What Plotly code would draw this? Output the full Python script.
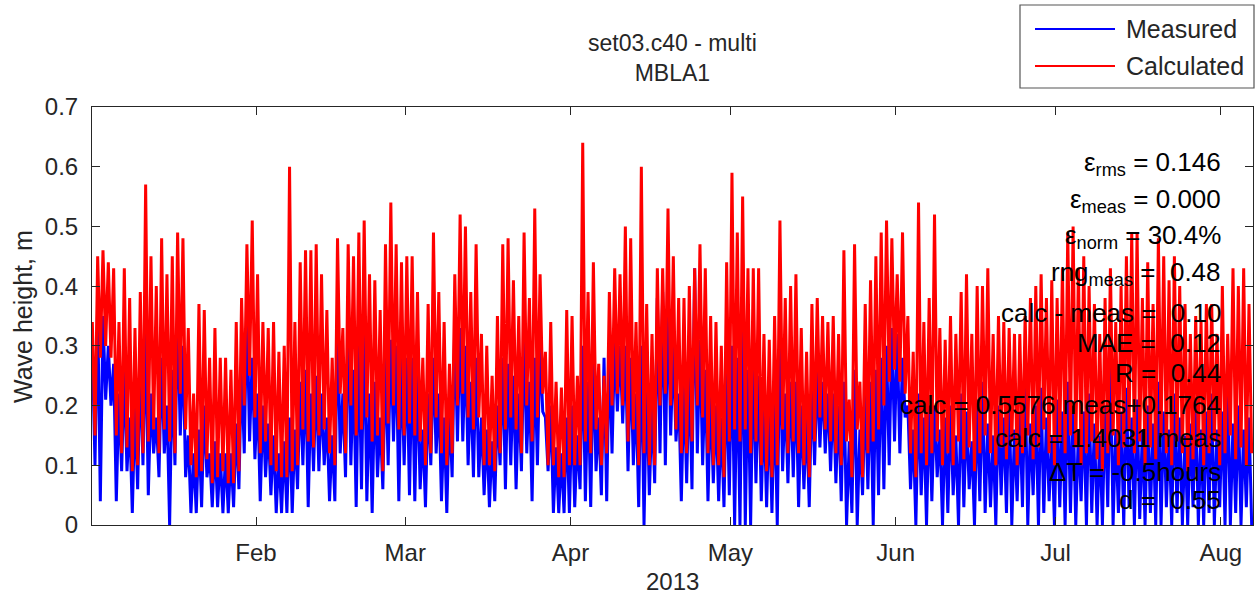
import pandas as pd
import plotly.graph_objects as go

# Daily extremes of significant wave height at MBLA1 (m), 1 Jan – 7 Aug 2013.
# Each day contributes its high and low value to the plotted series.
calc_hi = [
    0.34, 0.45, 0.46, 0.44, 0.43, 0.34, 0.43, 0.38, 0.33, 0.39,
    0.57, 0.45, 0.40, 0.48, 0.42, 0.45, 0.49, 0.48, 0.33, 0.22,
    0.37, 0.36, 0.28, 0.33, 0.28, 0.28, 0.26, 0.34, 0.38, 0.47,
    0.51, 0.42, 0.34, 0.33, 0.34, 0.29, 0.30, 0.60, 0.34, 0.44,
    0.46, 0.46, 0.47, 0.42, 0.36, 0.28, 0.48, 0.33, 0.47, 0.45,
    0.49, 0.51, 0.42, 0.41, 0.36, 0.47, 0.54, 0.47, 0.44, 0.45,
    0.45, 0.39, 0.28, 0.37, 0.49, 0.39, 0.34, 0.27, 0.42, 0.52,
    0.50, 0.39, 0.47, 0.32, 0.30, 0.25, 0.35, 0.47, 0.48, 0.41,
    0.35, 0.49, 0.38, 0.53, 0.42, 0.29, 0.34, 0.24, 0.23, 0.36,
    0.35, 0.25, 0.64, 0.39, 0.44, 0.27, 0.25, 0.39, 0.43, 0.42,
    0.50, 0.48, 0.34, 0.60, 0.37, 0.32, 0.43, 0.43, 0.53, 0.45,
    0.38, 0.38, 0.40, 0.43, 0.47, 0.43, 0.35, 0.34, 0.30, 0.44,
    0.59, 0.49, 0.55, 0.43, 0.43, 0.43, 0.32, 0.31, 0.35, 0.51,
    0.38, 0.40, 0.42, 0.33, 0.29, 0.37, 0.38, 0.35, 0.34, 0.35,
    0.32, 0.46, 0.21, 0.47, 0.24, 0.37, 0.41, 0.45, 0.49, 0.51,
    0.48, 0.42, 0.49, 0.35, 0.29, 0.54, 0.34, 0.38, 0.52, 0.33,
    0.31, 0.35, 0.32, 0.39, 0.42, 0.32, 0.40, 0.40, 0.43, 0.32,
    0.35, 0.34, 0.33, 0.32, 0.32, 0.35, 0.38, 0.40, 0.42, 0.38,
    0.41, 0.38, 0.43, 0.49, 0.50, 0.43, 0.45, 0.40, 0.37, 0.32,
    0.38, 0.43, 0.34, 0.40, 0.45, 0.49, 0.49, 0.38, 0.44, 0.37,
    0.48, 0.45, 0.41, 0.45, 0.40, 0.37, 0.32, 0.35, 0.34, 0.37,
    0.37, 0.32, 0.40, 0.32, 0.43, 0.40, 0.43, 0.37,
]
calc_lo = [
    0.15, 0.28, 0.30, 0.28, 0.15, 0.12, 0.13, 0.09, 0.10, 0.12,
    0.14, 0.16, 0.12, 0.16, 0.14, 0.12, 0.22, 0.16, 0.10, 0.08,
    0.09, 0.11, 0.07, 0.08, 0.09, 0.07, 0.07, 0.09, 0.20, 0.25,
    0.18, 0.12, 0.14, 0.10, 0.09, 0.08, 0.08, 0.09, 0.10, 0.16,
    0.14, 0.13, 0.15, 0.16, 0.12, 0.10, 0.22, 0.12, 0.20, 0.15,
    0.16, 0.18, 0.14, 0.15, 0.09, 0.17, 0.20, 0.16, 0.15, 0.17,
    0.15, 0.14, 0.10, 0.12, 0.18, 0.12, 0.10, 0.12, 0.20, 0.22,
    0.18, 0.16, 0.18, 0.10, 0.10, 0.09, 0.12, 0.16, 0.18, 0.16,
    0.12, 0.20, 0.14, 0.18, 0.22, 0.10, 0.10, 0.08, 0.08, 0.10,
    0.10, 0.10, 0.14, 0.12, 0.16, 0.10, 0.12, 0.20, 0.22, 0.20,
    0.14, 0.16, 0.10, 0.12, 0.10, 0.10, 0.20, 0.22, 0.20, 0.16,
    0.12, 0.12, 0.14, 0.20, 0.18, 0.12, 0.10, 0.10, 0.08, 0.14,
    0.16, 0.14, 0.16, 0.12, 0.14, 0.10, 0.09, 0.08, 0.10, 0.16,
    0.12, 0.14, 0.12, 0.10, 0.08, 0.14, 0.18, 0.16, 0.14, 0.12,
    0.10, 0.14, 0.08, 0.16, 0.08, 0.12, 0.14, 0.16, 0.20, 0.24,
    0.26, 0.24, 0.22, 0.12, 0.08, 0.12, 0.10, 0.12, 0.14, 0.10,
    0.12, 0.10, 0.14, 0.11, 0.13, 0.09, 0.12, 0.15, 0.12, 0.10,
    0.13, 0.11, 0.14, 0.10, 0.12, 0.15, 0.11, 0.13, 0.16, 0.12,
    0.10, 0.14, 0.12, 0.15, 0.13, 0.10, 0.12, 0.14, 0.11, 0.09,
    0.12, 0.15, 0.10, 0.13, 0.16, 0.12, 0.14, 0.10, 0.13, 0.11,
    0.15, 0.12, 0.10, 0.14, 0.12, 0.09, 0.11, 0.13, 0.10, 0.12,
    0.14, 0.10, 0.12, 0.15, 0.11, 0.13, 0.10, 0.12,
]
meas_hi = [
    0.30, 0.37, 0.35, 0.30, 0.27, 0.22, 0.26, 0.18, 0.20, 0.27,
    0.33, 0.22, 0.18, 0.28, 0.20, 0.26, 0.36, 0.30, 0.15, 0.12,
    0.16, 0.20, 0.12, 0.14, 0.12, 0.12, 0.12, 0.17, 0.27, 0.37,
    0.28, 0.22, 0.20, 0.17, 0.15, 0.12, 0.14, 0.18, 0.16, 0.24,
    0.26, 0.22, 0.25, 0.22, 0.18, 0.15, 0.35, 0.22, 0.36, 0.26,
    0.30, 0.34, 0.22, 0.24, 0.18, 0.28, 0.31, 0.30, 0.28, 0.28,
    0.28, 0.26, 0.16, 0.22, 0.28, 0.22, 0.18, 0.20, 0.34, 0.33,
    0.30, 0.24, 0.28, 0.18, 0.16, 0.14, 0.20, 0.28, 0.27, 0.25,
    0.22, 0.32, 0.24, 0.28, 0.30, 0.18, 0.20, 0.13, 0.12, 0.18,
    0.20, 0.15, 0.30, 0.24, 0.28, 0.18, 0.28, 0.30, 0.31, 0.30,
    0.30, 0.28, 0.22, 0.30, 0.24, 0.20, 0.38, 0.39, 0.38, 0.30,
    0.22, 0.24, 0.26, 0.43, 0.31, 0.26, 0.22, 0.20, 0.18, 0.26,
    0.30, 0.28, 0.35, 0.26, 0.28, 0.25, 0.20, 0.20, 0.22, 0.32,
    0.22, 0.24, 0.24, 0.20, 0.18, 0.24, 0.26, 0.24, 0.22, 0.22,
    0.20, 0.24, 0.14, 0.26, 0.16, 0.22, 0.24, 0.26, 0.28, 0.30,
    0.33, 0.32, 0.28, 0.20, 0.16, 0.22, 0.18, 0.20, 0.20, 0.16,
    0.18, 0.20, 0.15, 0.22, 0.19, 0.14, 0.21, 0.24, 0.17, 0.15,
    0.20, 0.18, 0.22, 0.16, 0.19, 0.25, 0.17, 0.20, 0.23, 0.18,
    0.15, 0.21, 0.19, 0.24, 0.20, 0.16, 0.19, 0.22, 0.17, 0.15,
    0.20, 0.28, 0.16, 0.19, 0.23, 0.18, 0.21, 0.16, 0.20, 0.17,
    0.24, 0.19, 0.16, 0.22, 0.18, 0.15, 0.17, 0.21, 0.16, 0.19,
    0.22, 0.16, 0.19, 0.24, 0.17, 0.20, 0.16, 0.18,
]
meas_lo = [
    0.10, 0.04, 0.21, 0.20, 0.04, 0.09, 0.09, 0.02, 0.06, 0.10,
    0.05, 0.12, 0.08, 0.12, 0.00, 0.10, 0.15, 0.08, 0.02, 0.02,
    0.03, 0.08, 0.03, 0.03, 0.02, 0.02, 0.03, 0.06, 0.12, 0.14,
    0.11, 0.04, 0.08, 0.05, 0.02, 0.02, 0.02, 0.02, 0.06, 0.10,
    0.03, 0.09, 0.09, 0.10, 0.04, 0.04, 0.12, 0.08, 0.10, 0.03,
    0.06, 0.04, 0.02, 0.08, 0.06, 0.10, 0.14, 0.04, 0.10, 0.05,
    0.04, 0.06, 0.03, 0.10, 0.12, 0.04, 0.02, 0.08, 0.14, 0.14,
    0.10, 0.08, 0.08, 0.05, 0.03, 0.04, 0.10, 0.06, 0.10, 0.06,
    0.09, 0.12, 0.04, 0.10, 0.19, 0.09, 0.02, 0.02, 0.02, 0.02,
    0.03, 0.06, 0.04, 0.03, 0.09, 0.05, 0.04, 0.12, 0.19, 0.17,
    0.09, 0.10, 0.03, 0.00, 0.05, 0.07, 0.12, 0.10, 0.15, 0.14,
    0.04, 0.07, 0.06, 0.12, 0.10, 0.04, 0.07, 0.04, 0.03, 0.05,
    0.00, 0.00, 0.00, 0.00, 0.07, 0.04, 0.03, 0.02, 0.00, 0.09,
    0.07, 0.08, 0.03, 0.06, 0.03, 0.10, 0.13, 0.12, 0.09, 0.07,
    0.04, 0.00, 0.02, 0.00, 0.05, 0.06, 0.00, 0.05, 0.06, 0.10,
    0.14, 0.12, 0.18, 0.06, 0.00, 0.05, 0.00, 0.04, 0.08, 0.00,
    0.02, 0.05, 0.00, 0.03, 0.06, 0.00, 0.04, 0.02, 0.03, 0.00,
    0.05, 0.02, 0.00, 0.04, 0.03, 0.00, 0.05, 0.00, 0.02, 0.04,
    0.00, 0.03, 0.00, 0.02, 0.00, 0.04, 0.00, 0.02, 0.00, 0.00,
    0.03, 0.00, 0.02, 0.00, 0.03, 0.00, 0.01, 0.00, 0.02, 0.00,
    0.00, 0.03, 0.00, 0.02, 0.00, 0.00, 0.03, 0.00, 0.00, 0.02,
    0.00, 0.03, 0.00, 0.00, 0.02, 0.00, 0.03, 0.00,
]

month_ticks = ["2013-02-01", "2013-03-01", "2013-04-01", "2013-05-01",
               "2013-06-01", "2013-07-01", "2013-08-01"]
month_labels = ["Feb", "Mar", "Apr", "May", "Jun", "Jul", "Aug"]
y_ticks = [0, 0.1, 0.2, 0.3, 0.4, 0.5, 0.6, 0.7]
y_labels = ["0", "0.1", "0.2", "0.3", "0.4", "0.5", "0.6", "0.7"]

stats_lines = [
    "ε<sub>rms</sub> = 0.146",
    "ε<sub>meas</sub> = 0.000",
    "ε<sub>norm</sub> = 30.4%",
    "rng<sub>meas</sub> =  0.48",
    "calc - meas =  0.10",
    "MAE =  0.12",
    "R =  0.44",
    "calc = 0.5576 meas+0.1764",
    "calc = 1.4031 meas",
    "ΔT = -0.5hours",
    "d =  0.55",
]

# ---- build time axis: high value in the morning, low value in the evening
days = pd.date_range("2013-01-01", periods=len(calc_hi), freq="D")
t, calc, meas = [], [], []
for i, d in enumerate(days):
    t += [d + pd.Timedelta(hours=7), d + pd.Timedelta(hours=19)]
    calc += [calc_hi[i], calc_lo[i]]
    meas += [meas_hi[i], meas_lo[i]]

FONT = "Liberation Sans, Arial, Helvetica, sans-serif"
INK = "#262626"

W, H = 1256, 596
L, R, T, B = 92, 3, 107, 71
PW, PH = W - L - R, H - T - B


def px(x):
    return (x - L) / PW


def py(y):
    return (H - B - y) / PH


fig = go.Figure()
fig.add_trace(go.Scatter(x=t, y=meas, mode="lines", name="Measured",
                         line=dict(color="#0000ff", width=3.0), showlegend=False))
fig.add_trace(go.Scatter(x=t, y=calc, mode="lines", name="Calculated",
                         line=dict(color="#ff0000", width=3.0), showlegend=False))


def label(text, x, y, size, **kw):
    d = dict(text=text, x=px(x), y=py(y), xref="paper", yref="paper",
             xanchor="center", yanchor="middle", showarrow=False,
             font=dict(size=size, color=INK))
    d.update(kw)
    return d


ann = [
    label("set03.c40 - multi<br>MBLA1", 672, 58, 23),
    label("Wave height, m", 23, 317, 25, textangle=-90),
    label("2013", 672, 581, 24),
]
# statistics block
stat_y = [163, 200, 237, 273, 313, 343, 373, 405, 438, 472, 500]
for txt, yy in zip(stats_lines, stat_y):
    ann.append(label(txt, 1223, yy, 26, xanchor="right",
                     font=dict(size=26, color="black")))

# legend box
shapes = [
    dict(type="rect", xref="paper", yref="paper", x0=px(1020), x1=px(1254),
         y0=py(88), y1=py(5), line=dict(color="#555555", width=1.2),
         fillcolor="white", layer="above"),
    dict(type="line", xref="paper", yref="paper", x0=px(1035), x1=px(1115),
         y0=py(29), y1=py(29), line=dict(color="#0000ff", width=2)),
    dict(type="line", xref="paper", yref="paper", x0=px(1035), x1=px(1115),
         y0=py(66), y1=py(66), line=dict(color="#ff0000", width=2)),
]
for name, yy in (("Measured", 29), ("Calculated", 66)):
    ann.append(label(name, 1124, yy, 25, xanchor="left"))

fig.update_layout(
    width=W, height=H,
    margin=dict(l=L, r=R, t=T, b=B, pad=0),
    paper_bgcolor="white", plot_bgcolor="white",
    font=dict(family=FONT, color=INK),
    annotations=ann, shapes=shapes,
    xaxis=dict(
        type="date", range=["2013-01-01 05:30", "2013-08-07 01:00"],
        tickvals=month_ticks, ticktext=month_labels,
        ticks="inside", ticklen=8, tickcolor=INK, tickwidth=1,
        showline=True, linecolor=INK, linewidth=1, mirror="ticks",
        showgrid=False, zeroline=False, tickfont=dict(size=24, color=INK),
        ticklabelstandoff=6,
    ),
    yaxis=dict(
        range=[0, 0.7], tickvals=y_ticks, ticktext=y_labels,
        ticks="inside", ticklen=8, tickcolor=INK, tickwidth=1,
        showline=True, linecolor=INK, linewidth=1, mirror="ticks",
        showgrid=False, zeroline=False, tickfont=dict(size=24, color=INK),
        ticklabelstandoff=8,
    ),
)

fig.write_html("out.html")
